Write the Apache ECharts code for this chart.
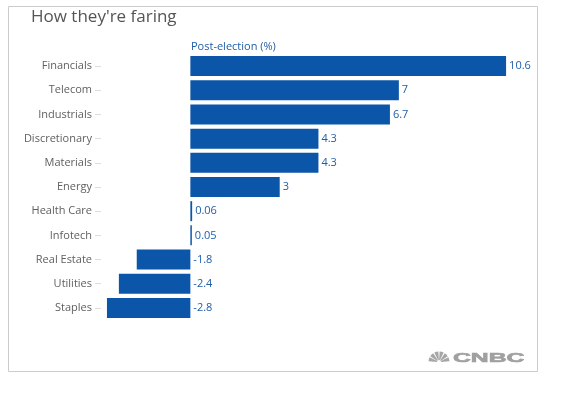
<!DOCTYPE html>
<html>
<head>
<meta charset="utf-8">
<script src="https://cdn.jsdelivr.net/npm/echarts@6/dist/echarts.min.js"></script>
<style>
html, body { margin: 0; padding: 0; background: #fff; }
#chart { width: 585px; height: 411px; }
</style>
</head>
<body>
<div id="chart"></div>
<script>
var categories = ['Financials', 'Telecom', 'Industrials', 'Discretionary', 'Materials', 'Energy',
    'Health Care', 'Infotech', 'Real Estate', 'Utilities', 'Staples'];
var values = [10.6, 7, 6.7, 4.3, 4.3, 3, 0.06, 0.05, -1.8, -2.4, -2.8];

var myChart = echarts.init(document.getElementById('chart'));

// peacock feathers for the logo
var feathers = [];
for (var i = 0; i < 6; i++) {
    var a = (165 - i * 30) * Math.PI / 180;
    feathers.push({
        type: 'sector',
        shape: { cx: 439, cy: 362, r0: 2, r: 10.5, startAngle: -a - 0.2, endAngle: -a + 0.2 },
        style: { fill: '#a6a6a6' }
    });
}

var option = {
    textStyle: { fontFamily: 'Open Sans' },
    title: [{
        text: "How they're faring",
        left: 26,
        top: 4,
        textStyle: { fontSize: 17, fontWeight: 'normal', color: '#555' }
    }, {
        text: 'Post-election (%)',
        left: 186,
        top: 36,
        textStyle: { fontSize: 11, fontWeight: 'normal', color: '#1f5da8' }
    }],
    grid: { left: 101, right: 67, top: 54, bottom: 91 },
    xAxis: {
        type: 'value',
        min: -3,
        max: 11,
        axisLine: { show: false },
        axisTick: { show: false },
        axisLabel: { show: false },
        splitLine: { show: false }
    },
    yAxis: {
        type: 'category',
        inverse: true,
        data: categories,
        axisLine: { show: false, onZero: false },
        axisTick: { show: true, alignWithLabel: true, length: 6, lineStyle: { color: '#dcdcdc' } },
        axisLabel: { color: '#606060', fontSize: 11, margin: 9 }
    },
    series: [{
        type: 'bar',
        data: values,
        barWidth: 20,
        itemStyle: { color: '#0b56a8' },
        label: {
            show: true,
            position: 'right',
            distance: 3,
            color: '#1f5da8',
            fontSize: 11
        }
    }],
    graphic: [{
        type: 'rect',
        shape: { x: 8.5, y: 6.5, width: 529, height: 365 },
        style: { fill: 'none', stroke: '#cccccc', lineWidth: 1 }
    }, {
        type: 'group',
        children: feathers
    }, {
        type: 'text',
        x: 453,
        y: 352,
        scaleX: 1.9,
        style: { text: 'CNBC', font: '900 13px "Liberation Sans"', fill: '#a0a0a0', stroke: '#a0a0a0', lineWidth: 0.6 }
    }]
};

myChart.setOption(option);
</script>
</body>
</html>
